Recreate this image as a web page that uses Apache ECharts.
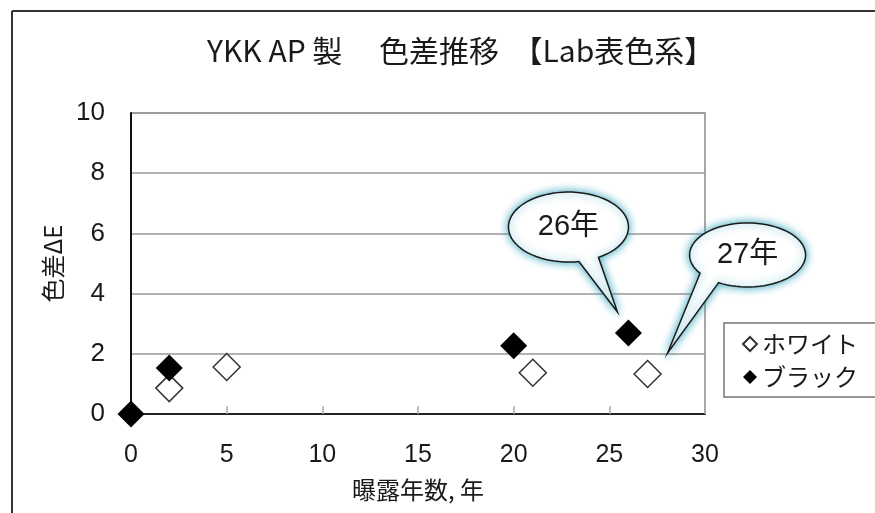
<!DOCTYPE html>
<html><head><meta charset="utf-8">
<script src="https://cdn.jsdelivr.net/npm/echarts@6/dist/echarts.min.js"></script>
<style>html,body{margin:0;padding:0;background:#fff}#c{width:875px;height:513px}</style>
</head><body><div id="c"></div>
<script>
const titleText = 'YKK AP 製　 色差推移  【Lab表色系】';
const xAxisName = '曝露年数, 年';
const yAxisName = '色差ΔE';
const seriesNames = ['ホワイト', 'ブラック'];
const whiteYears = [2, 5, 21, 27];
const whiteDeltaE = [0.86, 1.56, 1.37, 1.33];
const blackYears = [0, 2, 20, 26];
const blackDeltaE = [0.0, 1.53, 2.27, 2.69];
const calloutTexts = ['26年', '27年'];

const FONT = '"Liberation Sans", "Noto Sans CJK JP", sans-serif';
const JFONT = '"Noto Sans CJK JP", "Liberation Sans", sans-serif';

const chart = echarts.init(document.getElementById('c'), null, {renderer: 'canvas'});
const pairs = (xs, ys) => xs.map((x, i) => [x, ys[i]]);

chart.setOption({
  animation: false,
  backgroundColor: '#fff',
  title: {
    text: titleText,
    left: 202,
    top: 31,
    padding: 5,
    textStyle: {fontFamily: JFONT, fontSize: 30, fontWeight: 'normal', color: '#1a1a1a'}
  },
  grid: {left: 131, right: 170, top: 113, bottom: 99, show: true, borderColor: '#8a8a8a', borderWidth: 1.5, containLabel: false},
  legend: {
    orient: 'vertical',
    left: 724, top: 323,
    padding: [9, 40, 8, 18],
    itemGap: 9,
    itemWidth: 14, itemHeight: 14,
    borderColor: '#777', borderWidth: 1.5,
    textStyle: {fontFamily: JFONT, fontSize: 24, color: '#1a1a1a'},
    data: [{name: seriesNames[0], icon: 'diamond'}, {name: seriesNames[1], icon: 'diamond'}]
  },
  xAxis: {
    type: 'value', min: 0, max: 30, interval: 5,
    name: xAxisName, nameLocation: 'middle', nameGap: 64,
    nameTextStyle: {fontFamily: JFONT, fontSize: 24, color: '#1a1a1a'},
    axisLine: {show: true, onZero: false, lineStyle: {color: '#222', width: 2}},
    axisTick: {show: true, inside: true, length: 8, lineStyle: {color: '#aaa', width: 1.5}},
    axisLabel: {fontFamily: FONT, fontSize: 25, color: '#1a1a1a', margin: 29},
    splitLine: {show: false}
  },
  yAxis: {
    type: 'value', min: 0, max: 10, interval: 2,
    name: yAxisName, nameLocation: 'middle', nameGap: 58, nameRotate: 90,
    nameTextStyle: {fontFamily: JFONT, fontSize: 24, color: '#1a1a1a'},
    axisLine: {show: true, onZero: false, lineStyle: {color: '#111', width: 2}},
    axisTick: {show: false},
    axisLabel: {fontFamily: FONT, fontSize: 26, color: '#1a1a1a', margin: 26},
    splitLine: {show: true, lineStyle: {color: '#999', width: 1.5}}
  },
  series: [
    {
      name: seriesNames[0], type: 'scatter', symbol: 'diamond', symbolSize: 27,
      itemStyle: {color: '#fff', borderColor: '#333', borderWidth: 1.5, opacity: 1},
      data: pairs(whiteYears, whiteDeltaE), z: 3
    },
    {
      name: seriesNames[1], type: 'scatter', symbol: 'diamond', symbolSize: 27,
      itemStyle: {color: '#000', opacity: 1},
      data: pairs(blackYears, blackDeltaE), z: 4
    }
  ]
});

// Callout balloons anchored to data points
function balloon(pt, tipOff, cOff, rx, ry, a1, a2, text) {
  const tip = [pt[0] + tipOff[0], pt[1] + tipOff[1]];
  const c = [pt[0] + cOff[0], pt[1] + cOff[1]];
  const P = a => [c[0] + rx * Math.cos(a * Math.PI / 180), c[1] + ry * Math.sin(a * Math.PI / 180)];
  const pts = [P(a1), tip];
  const dir = a2 > a1 ? 1 : -1;
  const span = 360 - Math.abs(a2 - a1);
  const n = 72;
  for (let i = 0; i <= n; i++) pts.push(P(a2 + dir * span * i / n));
  return [
    {type: 'polygon', z: 100, shape: {points: pts},
     style: {fill: '#fff', stroke: '#1a1a1a', lineWidth: 1.5, shadowBlur: 9, shadowColor: 'rgba(40,160,185,0.95)'}},
    {type: 'text', z: 101, x: c[0], y: c[1],
     style: {text: text, fill: '#1a1a1a', font: '29px ' + FONT, align: 'center', verticalAlign: 'middle'}}
  ];
}

const p26 = chart.convertToPixel({seriesIndex: 1}, [blackYears[3], blackDeltaE[3]]);
const p27 = chart.convertToPixel({seriesIndex: 0}, [whiteYears[3], whiteDeltaE[3]]);

chart.setOption({
  graphic: [
    {type: 'line', z: 50, shape: {x1: 12, y1: 11, x2: 875, y2: 11}, style: {stroke: '#333', lineWidth: 2}},
    {type: 'line', z: 50, shape: {x1: 12, y1: 11, x2: 12, y2: 513}, style: {stroke: '#333', lineWidth: 2}},
    ...balloon(p26, [-11, -21], [-60, -106], 60, 35, 80, 60, calloutTexts[0]),
    ...balloon(p27, [20, -21], [100, -119], 58, 32, 120, 145, calloutTexts[1])
  ]
});
</script>
</body></html>
